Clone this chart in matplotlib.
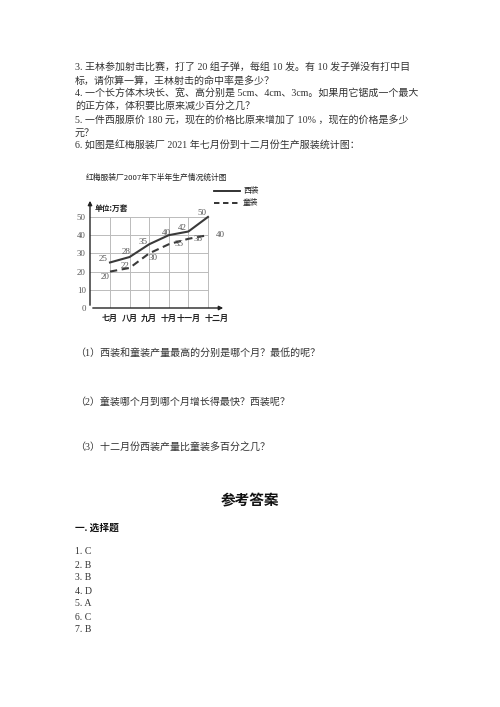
import matplotlib
matplotlib.use("Agg")
import matplotlib.pyplot as plt
import matplotlib.transforms as mtransforms

plt.rcParams['font.family'] = ['Liberation Serif', 'Noto Sans CJK SC', 'DejaVu Sans']

months = ["七月", "八月", "九月", "十月", "十一月", "十二月"]
suits = [25, 28, 35, 40, 42, 50]
kids = [20, 22, 30, 35, 38, 40]
yticks = [0, 10, 20, 30, 40, 50]

W, H = 500, 707
fig = plt.figure(figsize=(W / 100, H / 100), dpi=100)
fig.patch.set_facecolor("white")

TXT = "#333333"

def ft(x, y, s, size=7.2, weight="normal", ha="left", color=TXT, family=None):
    kw = {}
    if family:
        kw["family"] = family
    fig.text(x / W, 1 - y / H, s, fontsize=size, weight=weight, ha=ha, va="center", color=color, **kw)

body = [
    (67, "3. 王林参加射击比赛，打了 20 组子弹，每组 10 发。有 10 发子弹没有打中目"),
    (81, "标，请你算一算，王林射击的命中率是多少？"),
    (94, "4. 一个长方体木块长、宽、高分别是 5cm、4cm、3cm。如果用它锯成一个最大"),
    (107, "的正方体，体积要比原来减少百分之几？"),
    (120, "5. 一件西服原价 180 元，现在的价格比原来增加了 10% ，现在的价格是多少"),
    (133, "元？"),
    (146, "6. 如图是红梅服装厂 2021 年七月份到十二月份生产服装统计图："),
]
for y, s in body:
    ft(75, y, s)

ft(75, 353, "（1）西装和童装产量最高的分别是哪个月？最低的呢？")
ft(75, 402, "（2）童装哪个月到哪个月增长得最快？西装呢？")
ft(75, 448, "（3）十二月份西装产量比童装多百分之几？")

ft(250, 500, "参考答案", size=10.5, weight="bold", ha="center", color="#111111",
   family=['Noto Sans CJK SC'])
ft(75, 528, "一. 选择题", size=7, weight="bold", color="#111111")
answers = ["1. C", "2. B", "3. B", "4. D", "5. A", "6. C", "7. B"]
for i, a in enumerate(answers):
    ft(75, 552 + 13 * i, a, size=7)

# ---- chart ----
x0, x1, ytop, ybot = 90, 226, 198, 308
ax = fig.add_axes([x0 / W, 1 - ybot / H, (x1 - x0) / W, (ybot - ytop) / H])
ax.set_xlim(-1.02, 5.92)
ax.set_ylim(0, 60.4)
for s in ax.spines.values():
    s.set_visible(False)
ax.set_facecolor("none")

xs = list(range(len(months)))
gc = "#bbbbbb"
for v in yticks[1:]:
    ax.plot([-1.02, xs[-1]], [v, v], color=gc, lw=0.7, zorder=1)
for xi in xs:
    ax.plot([xi, xi], [0, yticks[-1]], color=gc, lw=0.7, zorder=1)

ax.annotate("", xy=(5.92, 0), xytext=(-1.02, 0),
            arrowprops=dict(arrowstyle="-|>", color="#222222", lw=1.0, mutation_scale=6))
ax.annotate("", xy=(-1.02, 60.4), xytext=(-1.02, 0),
            arrowprops=dict(arrowstyle="-|>", color="#222222", lw=1.0, mutation_scale=6))

ax.plot(xs, suits, color="#3a3a3a", lw=1.5, zorder=3)
ax.plot(xs, kids, color="#3a3a3a", lw=1.5, ls=(0, (3.5, 2.2)), zorder=3)

ax.set_xticks(xs)
ax.set_xticklabels(months, fontsize=5.8, color="#222222", family=['Noto Sans CJK SC'],
                   weight="bold")
ax.set_yticks(yticks)
ax.set_yticklabels([str(v) for v in yticks], fontsize=6.3, color="#555555")
ax.tick_params(length=0, pad=3)
ax.tick_params(axis="x", pad=4)
last = ax.get_xticklabels()[-1]
last.set_transform(last.get_transform() + mtransforms.ScaledTranslation(9 / 100, 0, fig.dpi_scale_trans))

suit_off = [(-7, 3.5), (-3, 5), (-6, 2), (-2, 2), (-6, 4), (-6, 4)]
kid_off = [(-5, -5), (-5, 2), (4, -5), (10, 0), (10, 0), (12, 0)]
for xi, v, (dx, dy) in zip(xs, suits, suit_off):
    ax.annotate(str(v), (xi, v), xytext=(dx * 0.72, dy * 0.72), textcoords="offset points",
                ha="center", va="center", fontsize=6.5, color="#555555")
for xi, v, (dx, dy) in zip(xs, kids, kid_off):
    ax.annotate(str(v), (xi, v), xytext=(dx * 0.72, dy * 0.72), textcoords="offset points",
                ha="center", va="center", fontsize=6.5, color="#555555")

ft(86, 178, "红梅服装厂2007年下半年生产情况统计图", size=5.6, color="#222222",
   family=['Noto Sans CJK SC', 'DejaVu Sans'])
ft(95, 208, "单位:万套", size=5.6, weight="bold", color="#222222", family=['Noto Sans CJK SC'])

# legend
lax = fig.add_axes([210 / W, 1 - 210 / H, 50 / W, 25 / H])
lax.set_xlim(0, 50); lax.set_ylim(25, 0); lax.axis("off")
lax.plot([4, 30], [6, 6], color="#222222", lw=1.3)
lax.plot([4, 30], [18, 18], color="#222222", lw=1.3, ls=(0, (3, 2)))
lax.text(33, 6, "西装", fontsize=5.6, va="center", family=['Noto Sans CJK SC'], color="#222222")
lax.text(33, 18, "童装", fontsize=5.6, va="center", family=['Noto Sans CJK SC'], color="#222222")

fig.savefig("out.png", dpi=100, facecolor="white")
